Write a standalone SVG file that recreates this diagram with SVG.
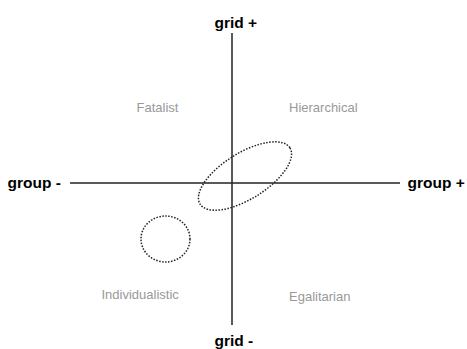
<svg xmlns="http://www.w3.org/2000/svg" width="467" height="349" viewBox="0 0 467 349">
<style>
.axis{stroke:#222;stroke-width:1.5;fill:none}
.dot{stroke:#222;stroke-width:1.5;fill:none;stroke-dasharray:1.5 1.5}
.ax{font-family:"Liberation Sans",Arial,sans-serif;font-size:15.5px;font-weight:bold;fill:#000}
.q{font-family:"Liberation Sans",Arial,sans-serif;font-size:13px;fill:#999}
</style>
<rect width="467" height="349" fill="#fff"/>
<g id="connectors">
<line class="axis" x1="232" y1="33" x2="232" y2="325"/>
<line class="axis" x1="70" y1="183" x2="400" y2="183"/>
</g>
<g id="grid-plus"><text class="ax" x="214.5" y="27.5">grid +</text></g>
<g id="grid-minus"><text class="ax" x="214.5" y="345.5">grid -</text></g>
<g id="group-minus"><text class="ax" x="7.5" y="187.5">group -</text></g>
<g id="group-plus"><text class="ax" x="407.5" y="187.5">group +</text></g>
<g id="fatalist"><text class="q" x="136.5" y="111.5">Fatalist</text></g>
<g id="hierarchical"><text class="q" x="289" y="111.5">Hierarchical</text></g>
<g id="individualistic"><text class="q" x="101.5" y="298.5">Individualistic</text></g>
<g id="egalitarian"><text class="q" x="289" y="300.5">Egalitarian</text></g>
<g id="ellipse-big"><ellipse class="dot" cx="245" cy="176" rx="53" ry="23" transform="rotate(-32 245 176)"/></g>
<g id="circle-small"><ellipse class="dot" cx="165.5" cy="239" rx="24.5" ry="23"/></g>
</svg>
